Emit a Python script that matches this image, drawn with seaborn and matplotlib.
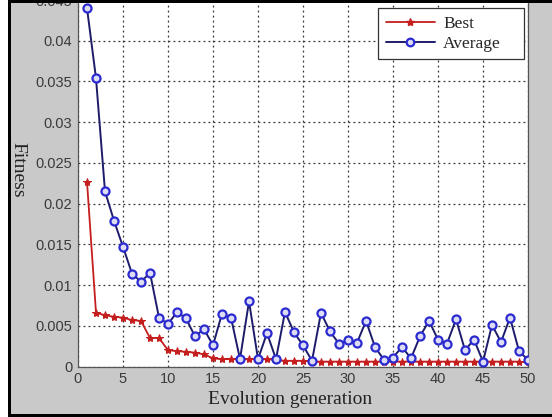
import numpy as np
import pandas as pd
import matplotlib
matplotlib.use("Agg")
import matplotlib.pyplot as plt
from matplotlib.lines import Line2D
from matplotlib.patches import Rectangle
import seaborn as sns

# Fitness per generation of the genetic algorithm
generations = list(range(1, 51))
best = [0.0227, 0.0066, 0.0063, 0.0061, 0.0060, 0.0057, 0.0056, 0.0035, 0.0035, 0.0020,
        0.0019, 0.0018, 0.0017, 0.0015, 0.0010, 0.0009, 0.0009, 0.0009, 0.0009, 0.0009,
        0.0009, 0.0008, 0.0007, 0.0007, 0.0007, 0.0006, 0.0006, 0.0006, 0.0006, 0.0006,
        0.0006, 0.0006, 0.0006, 0.0006, 0.0006, 0.0006, 0.0006, 0.0006, 0.0006, 0.0006,
        0.0006, 0.0006, 0.0006, 0.0006, 0.0006, 0.0006, 0.0006, 0.0006, 0.0006, 0.0005]
average = [0.0440, 0.0354, 0.0215, 0.0179, 0.0147, 0.0114, 0.0104, 0.0115, 0.0060, 0.0052,
           0.0067, 0.0059, 0.0037, 0.0046, 0.0026, 0.0065, 0.0060, 0.0009, 0.0080, 0.0009,
           0.0041, 0.0009, 0.0067, 0.0042, 0.0026, 0.0007, 0.0066, 0.0043, 0.0028, 0.0032,
           0.0029, 0.0056, 0.0024, 0.0008, 0.0011, 0.0024, 0.0010, 0.0037, 0.0056, 0.0033,
           0.0028, 0.0058, 0.0020, 0.0033, 0.0006, 0.0051, 0.0030, 0.0060, 0.0019, 0.0008]

x_ticks = list(range(0, 51, 5))
y_ticks = [0, 0.005, 0.01, 0.015, 0.02, 0.025, 0.03, 0.035, 0.04, 0.045]
y_tick_labels = ["0", "0.005", "0.01", "0.015", "0.02", "0.025", "0.03", "0.035", "0.04", "0.045"]

df = pd.DataFrame({"generation": generations, "Best": best, "Average": average})

sns.set_style("white")
plt.rcParams["font.family"] = ["Liberation Sans Narrow", "Liberation Sans", "DejaVu Sans"]

W, H = 552, 417
fig = plt.figure(figsize=(W / 100, H / 100), dpi=100, facecolor="#c9c9c9")
ax = fig.add_axes([78 / W, (H - 366.5) / H, 450 / W, 366.5 / H])
ax.set_facecolor("white")

best_color = "#c41e1e"
avg_line = "#1c1c6a"
avg_marker = "#2a2ad0"
avg_face = "#dcdcf4"

sns.lineplot(data=df, x="generation", y="Best", ax=ax, color=best_color, lw=1.3,
             marker="*", markersize=6, markeredgecolor=best_color,
             markerfacecolor=best_color, zorder=3)
sns.lineplot(data=df, x="generation", y="Average", ax=ax, color=avg_line, lw=1.4,
             marker="o", markersize=5.8, markeredgecolor=avg_marker,
             markerfacecolor=avg_face, markeredgewidth=1.6, zorder=4)

ax.set_xlim(0, 50)
ax.set_ylim(0, 0.045)
ax.set_xticks(x_ticks)
ax.set_xticklabels([str(v) for v in x_ticks])
ax.set_yticks(y_ticks)
ax.set_yticklabels(y_tick_labels)
ax.tick_params(direction="in", length=4, width=0.8, colors="#333333",
               labelsize=10.5, labelcolor="#3a3a3a", pad=4)
ax.grid(True, color="#333333", linestyle=(0, (1.5, 2.5)), linewidth=0.9)
for s in ax.spines.values():
    s.set_color("#555555")
    s.set_linewidth(0.9)

serif = ["Liberation Serif", "DejaVu Serif"]
ax.set_xlabel("Evolution generation", family=serif, fontsize=14, color="#222222")
ax.xaxis.set_label_coords(0.471, -0.068)
ax.set_ylabel("Fitness", family=serif, fontsize=14, color="#222222",
              rotation=270, va="center", ha="center")
ax.yaxis.set_label_coords(-0.133, 0.536)

handles = [
    Line2D([], [], color=best_color, lw=1.3, marker="*", markersize=6,
           markerfacecolor=best_color, markeredgecolor=best_color),
    Line2D([], [], color=avg_line, lw=1.4, marker="o", markersize=5.5,
           markerfacecolor=avg_face, markeredgecolor=avg_marker, markeredgewidth=1.6),
]
leg = ax.legend(handles, ["Best", "Average"], loc="upper right",
                bbox_to_anchor=(0.667, 0.5, 0.324, 0.478), mode="expand",
                prop={"family": serif, "size": 12.5},
                frameon=True, fancybox=False, framealpha=1, edgecolor="#333333",
                borderpad=0.45, handlelength=2.8, handletextpad=0.5, labelspacing=0.2,
                borderaxespad=0.0)
leg.get_frame().set_linewidth(0.9)

# Screenshot frame: white strip on the left, black borders
fig.patches.append(Rectangle((0, 0), 8 / W, 1, transform=fig.transFigure,
                             facecolor="white", edgecolor="none", zorder=10))
fig.patches.append(Rectangle((8 / W, 0), 2.5 / W, 1, transform=fig.transFigure,
                             facecolor="black", edgecolor="none", zorder=11))
fig.patches.append(Rectangle((8 / W, 1 - 3.3 / H), 1, 3.3 / H, transform=fig.transFigure,
                             facecolor="black", edgecolor="none", zorder=11))
fig.patches.append(Rectangle((8 / W, 0.5 / H), 1, 2.5 / H, transform=fig.transFigure,
                             facecolor="black", edgecolor="none", zorder=11))

fig.savefig("out.png", dpi=100, facecolor=fig.get_facecolor())
